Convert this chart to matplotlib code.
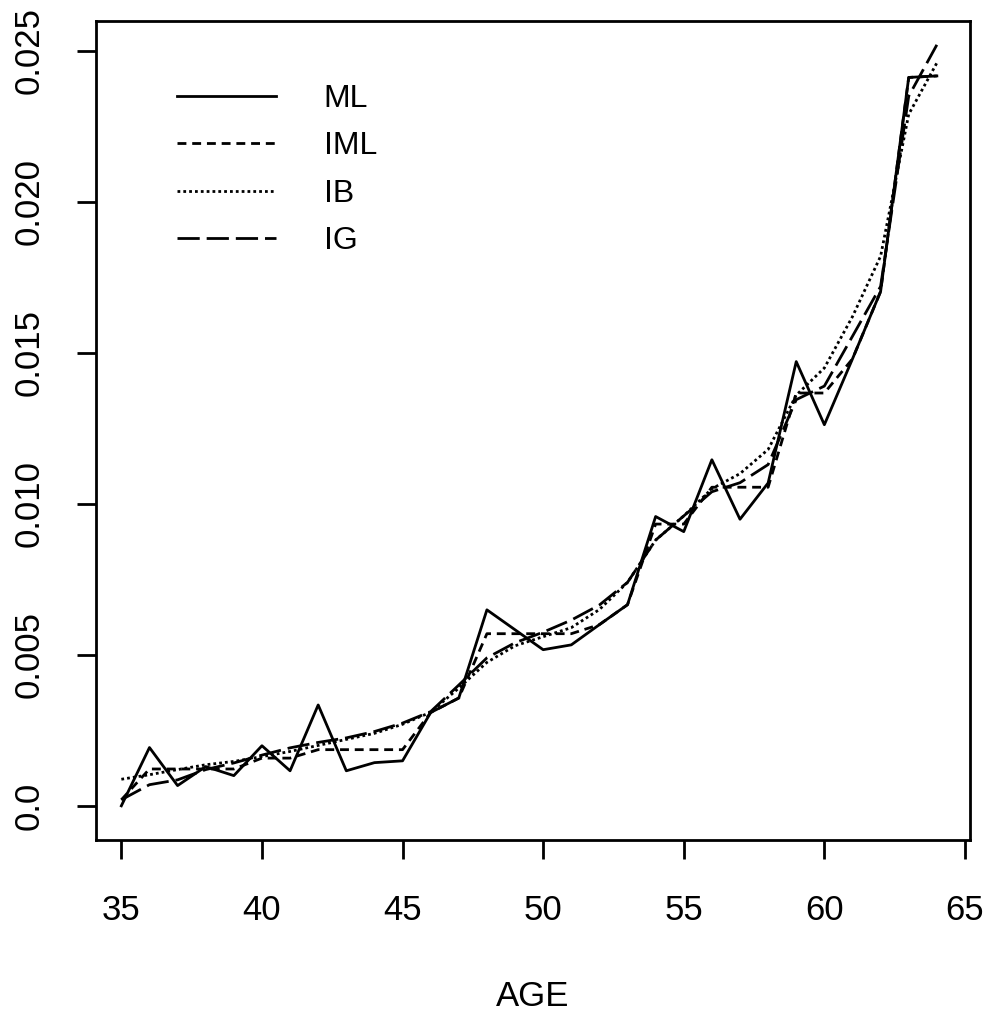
import matplotlib
matplotlib.use('Agg')
import matplotlib.pyplot as plt
import numpy as np

plt.rcParams['font.family'] = ['Liberation Sans', 'DejaVu Sans']

age = np.arange(35, 65)

# values
ml = [0.0000, 0.00193, 0.00067, 0.00130, 0.00100, 0.00199, 0.00116, 0.00334, 0.00116, 0.00143,
      0.00149, 0.00309, 0.00357, 0.00649, 0.00583, 0.00517, 0.00533, 0.00600, 0.00666, 0.00958,
      0.00908, 0.01146, 0.00949, 0.01069, 0.01471, 0.01262, 0.01480, 0.01703, 0.02412, 0.02417]
iml = [0.00020, 0.00122, 0.00122, 0.00122, 0.00122, 0.00158, 0.00158, 0.00186, 0.00186, 0.00186,
       0.00186, 0.00309, 0.00357, 0.00570, 0.00570, 0.00570, 0.00570, 0.00600, 0.00666, 0.00933,
       0.00933, 0.01055, 0.01055, 0.01055, 0.01367, 0.01367, 0.01480, 0.01703, 0.02412, 0.02417]
ib = [0.00088, 0.00103, 0.00120, 0.00136, 0.00147, 0.00163, 0.00180, 0.00200, 0.00220, 0.00240,
      0.00270, 0.00310, 0.00390, 0.00475, 0.00530, 0.00560, 0.00590, 0.00650, 0.00740, 0.00880,
      0.00960, 0.01050, 0.01100, 0.01180, 0.01360, 0.01450, 0.01620, 0.01820, 0.02290, 0.02460]
ig = [0.00020, 0.00070, 0.00086, 0.00120, 0.00142, 0.00168, 0.00192, 0.00210, 0.00225, 0.00246,
      0.00274, 0.00312, 0.00400, 0.00490, 0.00540, 0.00575, 0.00615, 0.00665, 0.00740, 0.00880,
      0.00960, 0.01040, 0.01070, 0.01130, 0.01345, 0.01390, 0.01555, 0.01720, 0.02350, 0.02520]

fig = plt.figure(figsize=(9.87, 10.18), dpi=100)
ax = fig.add_axes([0.0973, 0.1749, 0.8855, 0.8045])

lw = 2.0
ax.plot(age, ml, color='black', lw=lw, ls='-', label='ML')
ax.plot(age, iml, color='black', lw=lw, ls=(0, (3.2, 2.1)), label='IML')
ax.plot(age, ib, color='black', lw=lw, ls=(0, (1.0, 1.1)), label='IB')
ax.plot(age, ig, color='black', lw=lw, ls=(0, (8, 2.5)), label='IG')

ax.set_xlim(34.1, 65.18)
ax.set_ylim(-0.00113, 0.02599)
ax.set_xticks([35, 40, 45, 50, 55, 60, 65])
ax.set_yticks([0.0, 0.005, 0.010, 0.015, 0.020, 0.025])
ax.set_yticklabels(['0.0', '0.005', '0.010', '0.015', '0.020', '0.025'],
                   rotation=90, va='center')
ax.tick_params(axis='both', labelsize=25, length=14, width=2.0, pad=22, direction='out')
ax.tick_params(axis='x', pad=25)
for s in ax.spines.values():
    s.set_linewidth(2.0)

ax.set_xlabel('AGE', fontsize=25, labelpad=38)

ax.legend(loc='upper left', bbox_to_anchor=(0.0776, 0.939), borderaxespad=0,
          frameon=False, fontsize=23, handlelength=3.1, handletextpad=1.5,
          labelspacing=0.55)

plt.savefig('out.png', dpi=100)
